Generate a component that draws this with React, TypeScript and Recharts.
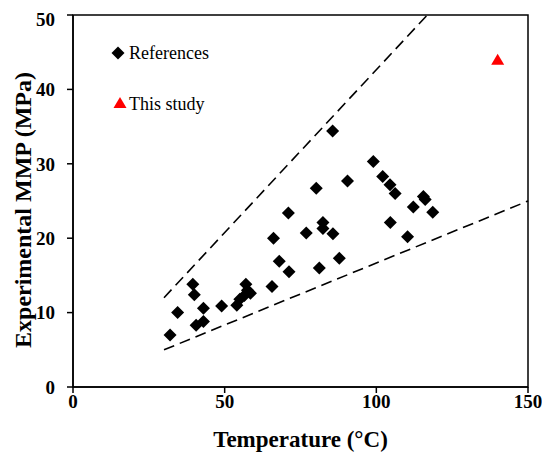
import React from 'react';
import { ScatterChart, Scatter, XAxis, YAxis, ReferenceLine, ReferenceArea } from 'recharts';

const refTemp = [32, 34.5, 39.5, 40, 40.6, 43, 43, 49, 54, 55, 56.5, 57, 57.5, 58.5, 65.6, 66.1, 68, 71.2, 71, 76.9, 80.2, 81.2, 82.4, 82.4, 85.7, 85.6, 87.8, 90.5, 99, 102.1, 104.5, 104.6, 106.2, 110.3, 112.2, 115.5, 116.1, 118.6];
const refMmp = [7, 10, 13.8, 12.4, 8.3, 8.8, 10.6, 10.9, 11, 11.8, 12.3, 13.8, 13, 12.6, 13.5, 20, 16.9, 15.5, 23.4, 20.7, 26.7, 16, 22.1, 21.3, 20.6, 34.4, 17.3, 27.7, 30.3, 28.3, 27.2, 22.1, 26, 20.2, 24.2, 25.6, 25.2, 23.5];
const studyTemp = [140];
const studyMmp = [44];
const upperBoundX = [30, 116.8];
const upperBoundY = [12, 50];
const lowerBoundX = [30, 150];
const lowerBoundY = [5, 25];
const xTicks = [0, 50, 100, 150];
const yTicks = [0, 10, 20, 30, 40, 50];

const refData = refTemp.map((t, i) => ({ x: t, y: refMmp[i] }));
const studyData = studyTemp.map((t, i) => ({ x: t, y: studyMmp[i] }));

const FONT = '"Liberation Serif", "Times New Roman", serif';

const Diamond = (props: any) => {
  const { cx, cy } = props;
  const r = 6.5;
  return <path d={`M${cx},${cy - r}L${cx + r},${cy}L${cx},${cy + r}L${cx - r},${cy}Z`} fill="#000" />;
};

const Triangle = (props: any) => {
  const { cx, cy } = props;
  return <path d={`M${cx},${cy - 6}L${cx + 6.5},${cy + 5}L${cx - 6.5},${cy + 5}Z`} fill="#ff0000" />;
};

const YTitle = (props: any) => {
  const cy = 202;
  const cx = 23;
  return (
    <text
      x={cx}
      y={cy}
      transform={`rotate(-90, ${cx}, ${cy})`}
      textAnchor="middle"
      fill="#000"
      fontSize={24}
      fontWeight="bold"
      fontFamily={FONT}
    >
      Experimental MMP (MPa)
    </text>
  );
};

export default function App() {
  return (
    <div style={{ width: 542, height: 454, position: 'relative' }}>
      <ScatterChart width={542} height={454} margin={{ top: 7, right: 22, bottom: 0, left: 0 }}>
        <XAxis
          type="number"
          dataKey="x"
          domain={[0, 150]}
          ticks={xTicks}
          allowDataOverflow
          height={75}
          tickSize={6}
          tickMargin={2}
          axisLine={{ stroke: '#000', strokeWidth: 1.5 }}
          tickLine={{ stroke: '#000', strokeWidth: 1.5 }}
          tick={{ fill: '#000', fontSize: 19, fontWeight: 'bold', fontFamily: FONT }}
          label={{ value: 'Temperature (°C)', position: 'insideBottom', offset: 15, fill: '#000', fontSize: 23, fontWeight: 'bold', fontFamily: FONT }}
        />
        <YAxis
          type="number"
          dataKey="y"
          domain={[0, 50]}
          ticks={yTicks}
          allowDataOverflow
          width={65}
          tickSize={6}
          tickMargin={12}
          axisLine={{ stroke: '#000', strokeWidth: 1.5 }}
          tickLine={{ stroke: '#000', strokeWidth: 1.5 }}
          tick={{ fill: '#000', fontSize: 19, fontWeight: 'bold', fontFamily: FONT }}
          label={YTitle}
        />
        <ReferenceArea x1={0} x2={150} y1={0} y2={50} fill="none" stroke="#000" strokeWidth={1.5} />
        <ReferenceLine
          segment={[{ x: upperBoundX[0], y: upperBoundY[0] }, { x: upperBoundX[1], y: upperBoundY[1] }]}
          stroke="#000"
          strokeWidth={1.6}
          strokeDasharray="11 6"
        />
        <ReferenceLine
          segment={[{ x: lowerBoundX[0], y: lowerBoundY[0] }, { x: lowerBoundX[1], y: lowerBoundY[1] }]}
          stroke="#000"
          strokeWidth={1.6}
          strokeDasharray="11 6"
        />
        <Scatter name="References" data={refData} shape={Diamond} isAnimationActive={false} />
        <Scatter name="This study" data={studyData} shape={Triangle} isAnimationActive={false} />
      </ScatterChart>
      <svg width={542} height={454} style={{ position: 'absolute', left: 0, top: 0, pointerEvents: 'none' }}>
        <path d="M110,38.5L116.5,45L110,51.5L103.5,45Z" fill="#000" />
        <text x={121} y={51} fontSize={18} fontFamily={FONT} fill="#000">References</text>
        <path d="M112,89L118.5,100L105.5,100Z" fill="#ff0000" />
        <text x={121} y={102} fontSize={18} fontFamily={FONT} fill="#000">This study</text>
      </svg>
    </div>
  );
}
